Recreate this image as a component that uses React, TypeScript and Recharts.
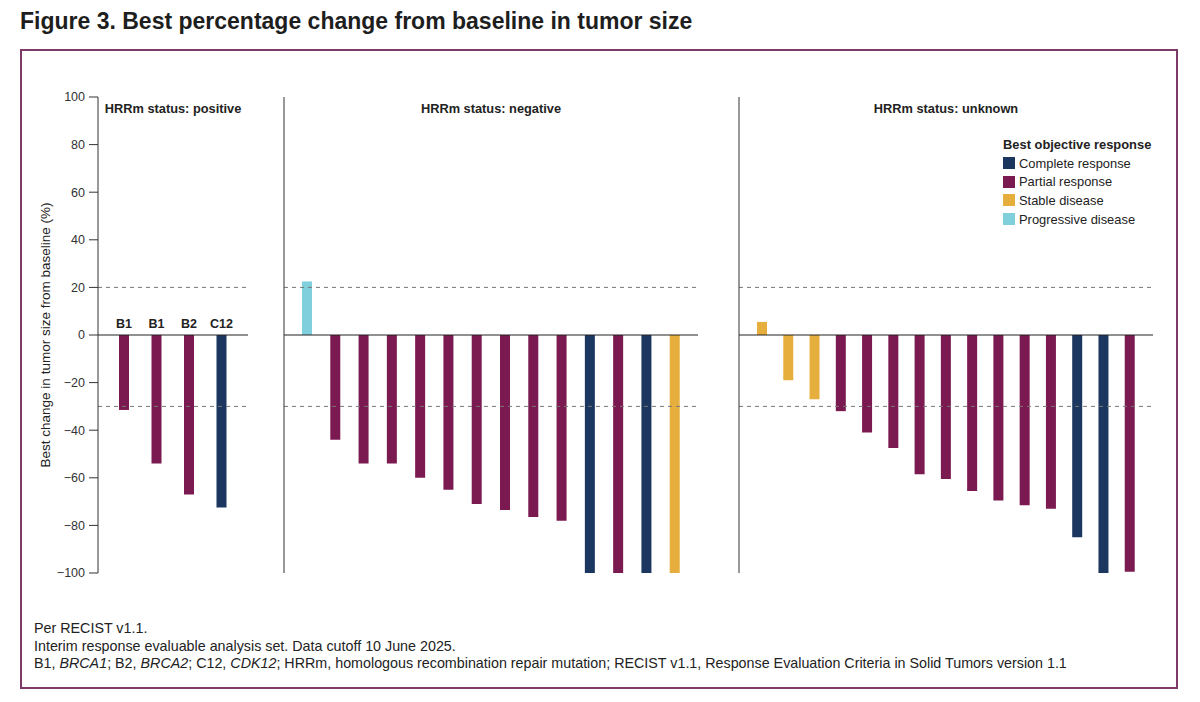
import React from 'react'
import { BarChart, Bar, XAxis, YAxis, Cell, ReferenceLine, LabelList } from 'recharts'

const FONT = '"Liberation Sans", Arial, Helvetica, sans-serif'

// response category colours
const responseColors: Record<string, string> = {
  CR: '#1b3760',
  PR: '#7b1a50',
  SD: '#e6ae3c',
  PD: '#80cfdc',
}
const legendKeys = ['CR', 'PR', 'SD', 'PD']
const legendLabels = ['Complete response', 'Partial response', 'Stable disease', 'Progressive disease']

const yTicks = [-100, -80, -60, -40, -20, 0, 20, 40, 60, 80, 100]

// HRRm positive
const positiveGenes = ['B1', 'B1', 'B2', 'C12']
const positiveChange = [-31.5, -54, -67, -72.5]
const positiveResponse = ['PR', 'PR', 'PR', 'CR']

// HRRm negative
const negativeChange = [22.5, -44, -54, -54, -60, -65, -71, -73.5, -76.5, -78, -100, -100, -100, -100]
const negativeResponse = ['PD', 'PR', 'PR', 'PR', 'PR', 'PR', 'PR', 'PR', 'PR', 'PR', 'CR', 'PR', 'CR', 'SD']

// HRRm unknown
const unknownChange = [5.5, -19, -27, -32, -41, -47.5, -58.5, -60.5, -65.5, -69.5, -71.5, -73, -85, -100, -99.5]
const unknownResponse = ['SD', 'SD', 'SD', 'PR', 'PR', 'PR', 'PR', 'PR', 'PR', 'PR', 'PR', 'PR', 'CR', 'CR', 'PR']

const toRows = (change: number[], response: string[], genes?: string[]) =>
  change.map((v, i) => ({ id: `p${i}`, change: v, response: response[i], gene: genes ? genes[i] : '' }))

const positiveData = toRows(positiveChange, positiveResponse, positiveGenes)
const negativeData = toRows(negativeChange, negativeResponse)
const unknownData = toRows(unknownChange, unknownResponse)

const CHART_TOP = 87
const CHART_H = 496
const margin = { top: 10, right: 0, bottom: 10, left: 0 }

const formatTick = (v: number) => (v < 0 ? `\u2212${Math.abs(v)}` : `${v}`)

const GeneLabel = (props: any) => {
  const vb = props.viewBox ?? props
  const { x, y, width, height } = vb
  const top = Math.min(y, y + height)
  return (
    <text x={x + width / 2} y={top - 7} textAnchor="middle" fontFamily={FONT} fontSize={12.5} fontWeight="bold" fill="#222">
      {props.value}
    </text>
  )
}

const YTitle = (props: any) => {
  const { y, height } = props.viewBox
  const cy = y + height / 2
  return (
    <text
      x={45}
      y={cy}
      transform={`rotate(-90, 45, ${cy})`}
      textAnchor="middle"
      dominantBaseline="central"
      fontFamily={FONT}
      fontSize={13.5}
      fill="#222"
    >
      Best change in tumor size from baseline (%)
    </text>
  )
}

const panelTitle = (text: string) => ({
  value: text,
  position: 'insideTop' as const,
  offset: 7,
  fontFamily: FONT,
  fontSize: 12.8,
  fontWeight: 'bold',
  fill: '#222',
})

interface PanelProps {
  data: any[]
  left: number
  width: number
  pad: number
  title: string
  showAxis?: boolean
  labels?: boolean
}

function Panel({ data, left, width, pad, title, showAxis, labels }: PanelProps) {
  return (
    <div style={{ position: 'absolute', left, top: CHART_TOP }}>
      <BarChart width={width} height={CHART_H} data={data} margin={margin} barSize={10}>
        <XAxis dataKey="id" hide padding={{ left: pad, right: pad }} />
        <YAxis
          type="number"
          domain={[-100, 100]}
          ticks={yTicks}
          interval={0}
          width={showAxis ? 98 : 1}
          axisLine={{ stroke: '#333' }}
          tick={showAxis ? { fontFamily: FONT, fontSize: 12.5, fill: '#333' } : false}
          tickFormatter={formatTick}
          tickLine={showAxis ? { stroke: '#333' } : false}
          tickSize={9}
          tickMargin={4}
          label={showAxis ? { content: YTitle } : undefined}
        />
        <ReferenceLine y={100} stroke="none" label={panelTitle(title)} />
        <ReferenceLine y={20} stroke="#777" strokeDasharray="4 4" />
        <ReferenceLine y={-30} stroke="#777" strokeDasharray="4 4" />
        <ReferenceLine y={0} stroke="#222" />
        <Bar dataKey="change" isAnimationActive={false}>
          {data.map((d) => (
            <Cell key={d.id} fill={responseColors[d.response]} />
          ))}
          {labels && <LabelList dataKey="gene" content={GeneLabel} />}
        </Bar>
      </BarChart>
    </div>
  )
}

export default function App() {
  return (
    <div style={{ position: 'absolute', left: 0, top: 0, width: 1200, height: 702, background: '#fff', fontFamily: FONT }}>
      <div style={{ position: 'absolute', left: 20, top: 8, fontSize: 23, fontWeight: 'bold', color: '#1e1e1e', whiteSpace: 'nowrap' }}>
        Figure 3. Best percentage change from baseline in tumor size
      </div>
      <div
        style={{
          position: 'absolute',
          left: 20,
          top: 49,
          width: 1158,
          height: 640,
          border: '2px solid #7d3a68',
          boxSizing: 'border-box',
        }}
      />
      <Panel data={positiveData} left={0} width={248} pad={10} title="HRRm status: positive" showAxis labels />
      <Panel data={negativeData} left={283} width={415} pad={9} title="HRRm status: negative" />
      <Panel data={unknownData} left={738} width={415} pad={10} title="HRRm status: unknown" />

      {/* response legend */}
      <div style={{ position: 'absolute', left: 1003, top: 136, color: '#222', whiteSpace: 'nowrap' }}>
        <div style={{ fontWeight: 'bold', fontSize: 12.9, lineHeight: '18px' }}>Best objective response</div>
        {legendKeys.map((k, i) => (
          <div key={k} style={{ display: 'flex', alignItems: 'center', height: 18.6, fontSize: 12.9 }}>
            <span style={{ width: 12, height: 12, background: responseColors[k], marginRight: 4, flexShrink: 0 }} />
            <span>{legendLabels[i]}</span>
          </div>
        ))}
      </div>

      <div style={{ position: 'absolute', left: 34, top: 620, fontSize: 14.3, lineHeight: '17.5px', color: '#222', whiteSpace: 'nowrap' }}>
        <div>Per RECIST v1.1.</div>
        <div>Interim response evaluable analysis set. Data cutoff 10 June 2025.</div>
        <div>
          B1, <i>BRCA1</i>; B2, <i>BRCA2</i>; C12, <i>CDK12</i>; HRRm, homologous recombination repair mutation; RECIST v1.1, Response
          Evaluation Criteria in Solid Tumors version 1.1
        </div>
      </div>
    </div>
  )
}
